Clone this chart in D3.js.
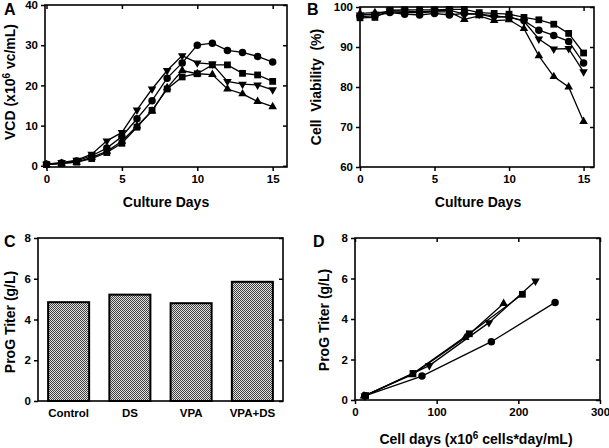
<!DOCTYPE html>
<html><head><meta charset="utf-8">
<script src="https://cdn.jsdelivr.net/npm/d3@7/dist/d3.min.js"></script>
<style>
body{margin:0;background:#fff;}
svg{display:block;font-family:Arial,"Liberation Sans",sans-serif;}
.tick text{font-weight:bold;font-size:11.5px;fill:#000;}
.ttl{font-weight:bold;font-size:14px;fill:#000;}
.lbl{font-weight:bold;font-size:16px;fill:#000;}
</style></head><body>
<svg id="c" width="609" height="448"></svg>
<script>
// ---- Data ----
const days = [0,1,2,3,4,5,6,7,8,9,10,11,12,13,14,15];
const seriesNames = ["Control","DS","VPA","VPA+DS"];
// Panel A: VCD (x10^6 vc/mL)
const vcdControl = [0.4,0.7,1.2,2.5,4.4,7.3,11.7,16.2,21.8,25.6,30.0,30.5,28.7,28.2,27.2,25.8];
const vcdDS      = [0.3,0.6,0.9,1.8,3.3,5.6,9.6,13.8,19.1,22.1,22.9,25.1,25.1,23.0,22.6,21.0];
const vcdVPA     = [0.3,0.6,0.9,2.1,3.6,6.1,9.9,13.6,19.4,23.7,22.9,22.7,19.1,17.9,16.0,14.7];
const vcdVPADS   = [0.4,0.8,1.4,2.9,6.2,8.3,13.9,19.1,23.7,27.4,25.6,25.3,21.0,20.3,20.1,18.9];
// Panel B: Cell viability (%)
const viaControl = [97.6,97.8,98.6,98.2,98.0,98.4,98.0,98.4,98.2,97.8,97.4,96.6,94.2,92.9,91.4,86.0];
const viaDS      = [97.3,97.4,99.2,99.3,99.3,99.3,99.4,99.4,98.6,98.4,98.2,97.4,96.8,95.7,93.4,88.5];
const viaVPA     = [98.4,98.6,98.8,98.6,98.6,98.8,98.8,96.9,97.8,96.6,96.8,94.6,87.8,82.6,80.0,71.4];
const viaVPADS   = [98.0,98.2,99.0,99.0,98.8,99.0,99.2,98.2,98.2,97.4,97.6,96.4,92.0,89.5,89.6,83.8];
// Panel C: ProG titer (g/L)
const titerCats = ["Control","DS","VPA","VPA+DS"];
const titerVals = [4.85,5.22,4.80,5.85];
// Panel D: cell days vs titer
const cdControl = [12,82,167,245],  tControl = [0.20,1.18,2.88,4.82];
const cdDS      = [13,71,140,205],  tDS      = [0.22,1.31,3.27,5.22];
const cdVPA     = [11,70,135,182],  tVPA     = [0.20,1.25,3.08,4.77];
const cdVPADS   = [12,91,164,221],  tVPADS   = [0.20,1.70,3.82,5.88];
// tick values
const ticksA = [0,10,20,30,40], ticksB = [60,70,80,90,100], ticksDays = [0,5,10,15];
const ticksTiter = [0,2,4,6,8], ticksCD = [0,100,200,300];

const svg = d3.select("#c");
const symbols = {
  "Control": d3.symbol().type(d3.symbolCircle).size(44),
  "DS": d3.symbol().type(d3.symbolSquare).size(46),
  "VPA": d3.symbol().type(d3.symbolTriangle).size(32),
  "VPA+DS": d3.symbol().type(d3.symbolTriangle).size(32)
};
function marker(sel, name){
  sel.attr("d", symbols[name]()).attr("fill","#000");
  if(name==="VPA+DS") sel.attr("transform", function(){return d3.select(this).attr("transform")+" rotate(180)";});
}

function frame(x, y, opts){
  const [x0,x1] = x.range(), [y0,y1] = y.range();
  const gl = svg.append("g").attr("transform",`translate(${x0},0)`)
    .call(d3.axisLeft(y).tickValues(opts.yt).tickSize(4).tickSizeOuter(0).tickPadding(3));
  gl.select(".domain").remove();
  gl.selectAll(".tick line").attr("stroke-width",1.5);
  const gr = svg.append("g").attr("transform",`translate(${x1},0)`)
    .call(d3.axisRight(y).tickValues(opts.yt).tickSize(-4).tickFormat(""));
  gr.select(".domain").remove();
  gr.selectAll(".tick line").attr("stroke-width",1.5);
  if(opts.xt){
    const gb = svg.append("g").attr("transform",`translate(0,${y0})`)
      .call(d3.axisBottom(x).tickValues(opts.xt).tickSize(4).tickSizeOuter(0).tickPadding(4));
    gb.select(".domain").remove();
    gb.selectAll(".tick line").attr("stroke-width",1.5);
    const gt = svg.append("g").attr("transform",`translate(0,${y1})`)
      .call(d3.axisTop(x).tickValues(opts.xt).tickSize(-4).tickFormat(""));
    gt.select(".domain").remove();
    gt.selectAll(".tick line").attr("stroke-width",1.5);
  }
  svg.append("rect").attr("x",x0).attr("y",y1).attr("width",x1-x0).attr("height",y0-y1)
    .attr("fill","none").attr("stroke","#000").attr("stroke-width",1.6);
}

function drawSeries(x, y, xs, ys, name){
  const pts = xs.map((d,i)=>[d, ys[i]]);
  svg.append("path").datum(pts).attr("fill","none").attr("stroke","#000").attr("stroke-width",1.3)
    .attr("d", d3.line().x(d=>x(d[0])).y(d=>y(d[1])));
  svg.append("g").selectAll("path").data(pts).join("path")
    .attr("transform", d=>`translate(${x(d[0])},${y(d[1])})`)
    .each(function(){ marker(d3.select(this), name); });
}

// ---- Panel A ----
{
  const x = d3.scaleLinear().domain([-0.1,15.95]).range([45,287]);
  const y = d3.scaleLinear().domain([-0.3,40]).range([167,5]);
  drawSeries(x,y,days,vcdVPA,"VPA");
  drawSeries(x,y,days,vcdVPADS,"VPA+DS");
  drawSeries(x,y,days,vcdDS,"DS");
  drawSeries(x,y,days,vcdControl,"Control");
  frame(x,y,{yt:ticksA, xt:ticksDays});
  svg.append("text").attr("class","lbl").attr("x",4).attr("y",15).text("A");
  svg.append("text").attr("class","ttl").attr("text-anchor","middle").attr("x",166).attr("y",207).text("Culture Days");
  const t = svg.append("text").attr("class","ttl").attr("text-anchor","middle")
    .attr("transform","translate(15,82) rotate(-90)");
  t.append("tspan").text("VCD (x10");
  t.append("tspan").attr("dy",-5).attr("font-size","10px").text("6");
  t.append("tspan").attr("dy",5).text(" vc/mL)");
}
// ---- Panel B ----
{
  const x = d3.scaleLinear().domain([0,15.7]).range([360,594]);
  const y = d3.scaleLinear().domain([60,100]).range([167,7]);
  drawSeries(x,y,days,viaVPA,"VPA");
  drawSeries(x,y,days,viaVPADS,"VPA+DS");
  drawSeries(x,y,days,viaControl,"Control");
  drawSeries(x,y,days,viaDS,"DS");
  frame(x,y,{yt:ticksB, xt:ticksDays});
  svg.append("text").attr("class","lbl").attr("x",307).attr("y",15).text("B");
  svg.append("text").attr("class","ttl").attr("text-anchor","middle").attr("x",478).attr("y",207).text("Culture Days");
  svg.append("text").attr("class","ttl").attr("text-anchor","middle").attr("xml:space","preserve")
    .attr("transform","translate(321,87) rotate(-90)").text("Cell  Viability  (%)");
}
// ---- Panel C ----
{
  const defs = svg.append("defs");
  const pat = defs.append("pattern").attr("id","hatch").attr("patternUnits","userSpaceOnUse")
    .attr("width",2).attr("height",2);
  pat.append("rect").attr("width",2).attr("height",2).attr("fill","#e0e0e0");
  pat.append("rect").attr("width",1).attr("height",1).attr("fill","#404040");
  pat.append("rect").attr("x",1).attr("y",1).attr("width",1).attr("height",1).attr("fill","#404040");
  const x = d3.scaleBand().domain(titerCats).range([38,283]).paddingInner(0.33).paddingOuter(0.165);
  const y = d3.scaleLinear().domain([0,8]).range([401,238]);
  svg.append("g").selectAll("rect").data(titerCats).join("rect")
    .attr("x",d=>x(d)).attr("width",x.bandwidth())
    .attr("y",(d,i)=>y(titerVals[i])).attr("height",(d,i)=>y(0)-y(titerVals[i]))
    .attr("fill","url(#hatch)").attr("stroke","#000").attr("stroke-width",2);
  const [x0,x1]=x.range();
  const gl = svg.append("g").attr("transform",`translate(${x0},0)`)
    .call(d3.axisLeft(y).tickValues(ticksTiter).tickSize(4).tickSizeOuter(0).tickPadding(3));
  gl.select(".domain").remove(); gl.selectAll(".tick line").attr("stroke-width",1.5);
  const gr = svg.append("g").attr("transform",`translate(${x1},0)`)
    .call(d3.axisRight(y).tickValues(ticksTiter).tickSize(-4).tickFormat(""));
  gr.select(".domain").remove(); gr.selectAll(".tick line").attr("stroke-width",1.5);
  const gb = svg.append("g").attr("transform",`translate(0,${y(0)})`)
    .call(d3.axisBottom(x).tickSize(0).tickPadding(8));
  gb.select(".domain").remove();
  svg.append("rect").attr("x",x0).attr("y",238).attr("width",x1-x0).attr("height",401-238)
    .attr("fill","none").attr("stroke","#000").attr("stroke-width",1.6);
  svg.append("text").attr("class","lbl").attr("x",4).attr("y",247).text("C");
  svg.append("text").attr("class","ttl").attr("text-anchor","middle")
    .attr("transform","translate(15,322) rotate(-90)").text("ProG Titer (g/L)");
}
// ---- Panel D ----
{
  const x = d3.scaleLinear().domain([0,300]).range([355,600]);
  const y = d3.scaleLinear().domain([0,8]).range([400,238]);
  drawSeries(x,y,cdControl,tControl,"Control");
  drawSeries(x,y,cdVPADS,tVPADS,"VPA+DS");
  drawSeries(x,y,cdVPA,tVPA,"VPA");
  drawSeries(x,y,cdDS,tDS,"DS");
  frame(x,y,{yt:ticksTiter, xt:ticksCD});
  svg.append("text").attr("class","lbl").attr("x",313).attr("y",247).text("D");
  const t = svg.append("text").attr("class","ttl").attr("text-anchor","middle").attr("x",476).attr("y",444);
  t.append("tspan").text("Cell days (x10");
  t.append("tspan").attr("dy",-5).attr("font-size","10px").text("6");
  t.append("tspan").attr("dy",5).text(" cells*day/mL)");
  svg.append("text").attr("class","ttl").attr("text-anchor","middle")
    .attr("transform","translate(329,320) rotate(-90)").text("ProG Titer (g/L)");
}
</script></body></html>
